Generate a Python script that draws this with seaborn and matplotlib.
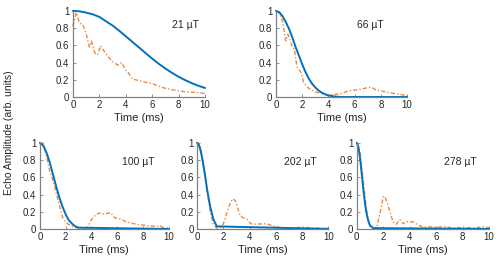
import numpy as np
import pandas as pd
import matplotlib
matplotlib.use("Agg")
import matplotlib.pyplot as plt
import seaborn as sns

# field labels for the five panels
fields = ["21 µT", "66 µT", "100 µT", "202 µT", "278 µT"]

# simulated (blue) curves
sim_t_21 = [0, 0.5, 1, 1.5, 2, 2.5, 3, 3.5, 4, 4.5, 5, 5.5, 6, 6.5, 7, 7.5, 8, 8.5, 9, 9.5, 10]
sim_v_21 = [1.0, 0.995, 0.98, 0.96, 0.93, 0.88, 0.83, 0.77, 0.705, 0.64, 0.575, 0.51, 0.445,
            0.385, 0.33, 0.28, 0.235, 0.195, 0.16, 0.13, 0.105]
sim_t_66 = [0, 0.25, 0.5, 0.75, 1, 1.25, 1.5, 1.75, 2, 2.25, 2.5, 2.75, 3, 3.25, 3.5, 3.75, 4,
            4.5, 5, 10]
sim_v_66 = [1.0, 0.985, 0.94, 0.87, 0.79, 0.69, 0.58, 0.48, 0.38, 0.29, 0.215, 0.155, 0.11,
            0.075, 0.05, 0.03, 0.018, 0.005, 0.0, 0.0]
sim_t_100 = [0, 0.25, 0.5, 0.75, 1, 1.25, 1.5, 1.75, 2, 2.25, 2.5, 2.75, 3, 10]
sim_v_100 = [1.0, 0.97, 0.89, 0.78, 0.64, 0.5, 0.37, 0.26, 0.17, 0.1, 0.06, 0.03, 0.015, 0.0]
sim_t_202 = [0, 0.125, 0.25, 0.375, 0.5, 0.625, 0.75, 0.875, 1, 1.125, 1.25, 1.5, 10]
sim_v_202 = [1.0, 0.98, 0.92, 0.83, 0.72, 0.6, 0.47, 0.36, 0.26, 0.18, 0.11, 0.03, 0.0]
sim_t_278 = [0, 0.125, 0.25, 0.375, 0.5, 0.625, 0.75, 0.875, 1.0, 1.25, 10]
sim_v_278 = [1.0, 0.95, 0.82, 0.64, 0.45, 0.29, 0.17, 0.09, 0.04, 0.01, 0.0]

# measured (orange) curves
exp_t_21 = [0, 0.25, 0.5, 0.75, 1.0, 1.25, 1.4, 1.6, 1.75, 1.9, 2.1, 2.5, 3.0, 3.4, 3.7,
            4.0, 4.2, 4.5, 5, 5.5, 6, 6.5, 7, 7.5, 8, 8.5, 9, 9.5, 10]
exp_v_21 = [0.82, 0.98, 0.86, 0.84, 0.74, 0.58, 0.65, 0.54, 0.49, 0.5, 0.595, 0.5, 0.41, 0.37, 0.40,
            0.31, 0.28, 0.21, 0.19, 0.17, 0.155, 0.125, 0.10, 0.085, 0.07, 0.06, 0.055, 0.05, 0.04]
exp_t_66 = [0, 0.25, 0.5, 0.75, 0.9, 1.1, 1.25, 1.4, 1.6, 1.9, 2.1, 2.5, 3, 3.5, 4, 4.5, 5,
            5.5, 6, 6.5, 7, 7.3, 7.6, 8, 8.5, 9, 9.5, 10]
exp_v_66 = [1.0, 0.97, 0.88, 0.65, 0.73, 0.65, 0.58, 0.56, 0.35, 0.29, 0.17, 0.10, 0.06, 0.04, 0.025, 0.03, 0.04,
            0.07, 0.08, 0.09, 0.11, 0.11, 0.085, 0.07, 0.055, 0.04, 0.03, 0.01]
exp_t_100 = [0, 0.25, 0.5, 0.75, 1, 1.25, 1.5, 1.75, 2, 2.25, 2.5, 3, 3.5, 3.7, 4.0, 4.3, 4.6,
             5.0, 5.2, 5.5, 5.8, 6.2, 6.6, 7, 7.5, 8, 8.5, 9, 9.3, 9.5, 10]
exp_v_100 = [0.98, 1.0, 0.85, 0.68, 0.57, 0.43, 0.28, 0.14, 0.08, 0.05, 0.03, 0.01, 0.005, 0.02, 0.11, 0.16, 0.185,
             0.17, 0.18, 0.19, 0.13, 0.12, 0.09, 0.07, 0.055, 0.045, 0.035, 0.03, 0.04, 0.02, 0.01]
exp_t_202 = [0, 0.1, 0.25, 0.5, 0.75, 1.0, 1.25, 1.5, 1.75, 2, 2.25, 2.5, 2.7, 2.9, 3.1, 3.3,
             3.5, 3.8, 4.1, 4.5, 5, 5.3, 5.6, 6, 6.5, 7, 7.5, 8, 8.5, 9, 10]
exp_v_202 = [0.98, 1.0, 0.97, 0.75, 0.45, 0.2, 0.05, 0.01, 0.015, 0.06, 0.18, 0.29, 0.35, 0.33, 0.24, 0.15,
             0.13, 0.11, 0.06, 0.055, 0.06, 0.06, 0.045, 0.025, 0.015, 0.01, 0.015, 0.02, 0.015, 0.01, 0.008]
exp_t_278 = [0, 0.1, 0.25, 0.5, 0.75, 1.0, 1.25, 1.5, 1.75, 2.0, 2.1, 2.3, 2.5, 2.75, 3.0, 3.25,
             3.5, 3.75, 4.0, 4.3, 4.6, 5, 5.5, 6, 6.5, 6.8, 7, 8, 9, 9.6, 10]
exp_v_278 = [1.0, 0.98, 0.88, 0.55, 0.2, 0.03, 0.01, 0.015, 0.18, 0.37, 0.38, 0.31, 0.2, 0.08, 0.055, 0.11,
             0.06, 0.085, 0.085, 0.08, 0.05, 0.02, 0.025, 0.02, 0.025, 0.03, 0.015, 0.015, 0.015, 0.025, 0.015]

sim_t = [sim_t_21, sim_t_66, sim_t_100, sim_t_202, sim_t_278]
sim_v = [sim_v_21, sim_v_66, sim_v_100, sim_v_202, sim_v_278]
exp_t = [exp_t_21, exp_t_66, exp_t_100, exp_t_202, exp_t_278]
exp_v = [exp_v_21, exp_v_66, exp_v_100, exp_v_202, exp_v_278]

x_ticks = [0, 2, 4, 6, 8, 10]
y_ticks = [0, 0.2, 0.4, 0.6, 0.8, 1]
y_ticklabels = ["0", "0.2", "0.4", "0.6", "0.8", "1"]

sns.set_style("ticks")
plt.rcParams['font.family'] = ['Liberation Sans', 'DejaVu Sans']

fig = plt.figure(figsize=(4.99, 2.65), dpi=100)

# axes boxes [left, bottom, width, height]
boxes = [
    [0.146, 0.634, 0.265, 0.325],
    [0.553, 0.634, 0.263, 0.325],
    [0.080, 0.136, 0.258, 0.325],
    [0.395, 0.136, 0.263, 0.325],
    [0.715, 0.136, 0.265, 0.325],
]
label_pos = [(0.85, 0.84), (0.72, 0.84), (0.76, 0.78), (0.79, 0.78), (0.78, 0.78)]

blue = "#0072BD"
orange = "#EE8840"
axis_gray = "#808080"
txt = "#262626"

for i in range(5):
    ax = fig.add_axes(boxes[i])
    sns.lineplot(x=exp_t[i], y=exp_v[i], ax=ax, color=orange,
                 linestyle=(0, (3, 1.5, 1, 1.5)), linewidth=1.0, clip_on=False)
    sns.lineplot(x=sim_t[i], y=sim_v[i], ax=ax, color=blue, linewidth=1.4,
                 clip_on=False)
    ax.set_xlim(0, 10)
    ax.set_ylim(0, 1)
    ax.set_xticks(x_ticks)
    ax.set_yticks(y_ticks)
    ax.set_yticklabels(y_ticklabels)
    ax.tick_params(direction="in", length=2, width=0.6, color=axis_gray,
                   labelsize=7, pad=2.5, labelcolor=txt)
    for s in ["top", "right"]:
        ax.spines[s].set_visible(False)
    for s in ["left", "bottom"]:
        ax.spines[s].set_color(axis_gray)
        ax.spines[s].set_linewidth(0.9)
    ax.set_xlabel("Time (ms)", fontsize=8, color=txt, labelpad=2)
    ax.set_ylabel("")
    ax.text(label_pos[i][0], label_pos[i][1], fields[i], transform=ax.transAxes,
            ha="center", va="center", fontsize=7.5, color=txt)

fig.text(0.018, 0.5, "Echo Amplitude (arb. units)", rotation=90,
         ha="center", va="center", fontsize=7.5, color=txt)

fig.savefig("out.png", dpi=100)
